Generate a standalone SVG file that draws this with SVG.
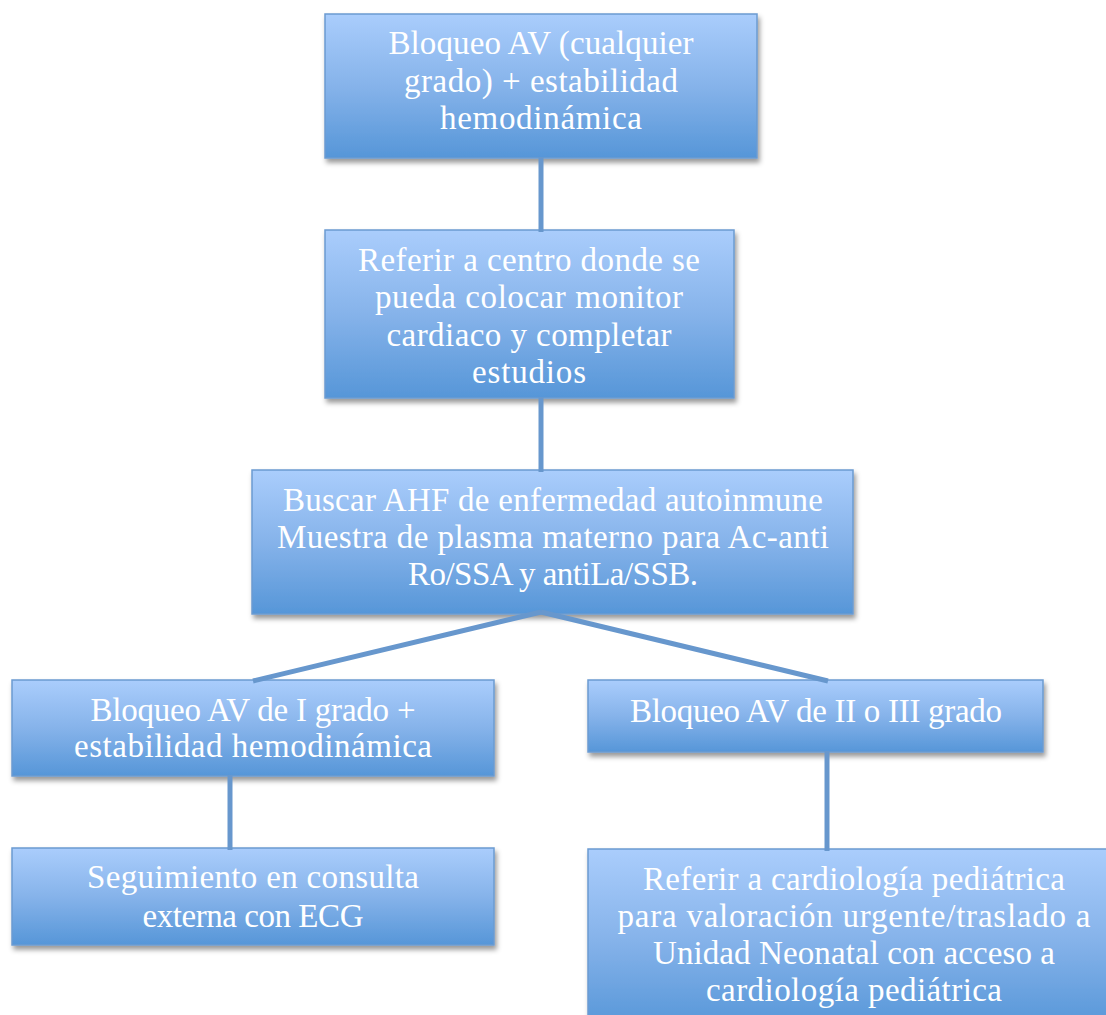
<svg xmlns="http://www.w3.org/2000/svg" width="1106" height="1015" viewBox="0 0 1106 1015">
  <defs>
    <linearGradient id="boxFill" x1="0" y1="0" x2="0" y2="1">
      <stop offset="0" stop-color="#aacdfc"/>
      <stop offset="0.5" stop-color="#86b3ea"/>
      <stop offset="1" stop-color="#5696d8"/>
    </linearGradient>
    <filter id="shadow" x="-5%" y="-5%" width="112%" height="125%">
      <feDropShadow dx="2" dy="4" stdDeviation="2.5" flood-color="#000" flood-opacity="0.4"/>
    </filter>
  </defs>
  <style>
    .box { fill: url(#boxFill); stroke: #6b9bd1; stroke-width: 1.5; filter: url(#shadow); }
    .label { font-family: "Liberation Serif", "Times New Roman", serif; font-size: 33px; fill: #ffffff; text-anchor: middle; }
    .link { stroke: #6797cd; stroke-width: 5; fill: none; stroke-linecap: butt; }
  </style>
  <rect width="1106" height="1015" fill="#ffffff"/>

  <g id="node-bloqueo-av">
    <rect class="box" x="325" y="14" width="432" height="144"/>
    <text class="label"><tspan x="541" y="54" textLength="305" lengthAdjust="spacing">Bloqueo AV (cualquier</tspan><tspan x="541" y="92" textLength="274" lengthAdjust="spacing">grado) + estabilidad</tspan><tspan x="541" y="129" textLength="202" lengthAdjust="spacing">hemodinámica</tspan></text>
  </g>

  <g id="node-referir-centro">
    <rect class="box" x="325" y="230" width="409" height="168"/>
    <text class="label"><tspan x="529" y="271" textLength="342" lengthAdjust="spacing">Referir a centro donde se</tspan><tspan x="529" y="308" textLength="308" lengthAdjust="spacing">pueda colocar monitor</tspan><tspan x="529" y="346" textLength="285" lengthAdjust="spacing">cardiaco y completar</tspan><tspan x="529" y="383" textLength="114" lengthAdjust="spacing">estudios</tspan></text>
  </g>

  <g id="node-buscar-ahf">
    <rect class="box" x="252" y="470" width="601" height="144"/>
    <text class="label"><tspan x="553" y="511" textLength="540" lengthAdjust="spacing">Buscar AHF de enfermedad autoinmune</tspan><tspan x="553" y="548" textLength="552" lengthAdjust="spacing">Muestra de plasma materno para Ac-anti</tspan><tspan x="553" y="585" textLength="290" lengthAdjust="spacing">Ro/SSA y antiLa/SSB.</tspan></text>
  </g>

  <g id="node-bloqueo-i">
    <rect class="box" x="12" y="680" width="482" height="96"/>
    <text class="label"><tspan x="253" y="721" textLength="325" lengthAdjust="spacing">Bloqueo AV de I grado +</tspan><tspan x="253" y="757" textLength="358" lengthAdjust="spacing">estabilidad hemodinámica</tspan></text>
  </g>

  <g id="node-bloqueo-ii-iii">
    <rect class="box" x="588" y="680" width="455" height="72"/>
    <text class="label"><tspan x="816" y="722" textLength="372" lengthAdjust="spacing">Bloqueo AV de II o III grado</tspan></text>
  </g>

  <g id="node-seguimiento">
    <rect class="box" x="12" y="848" width="482" height="97"/>
    <text class="label"><tspan x="253" y="888" textLength="332" lengthAdjust="spacing">Seguimiento en consulta</tspan><tspan x="253" y="927" textLength="221" lengthAdjust="spacing">externa con ECG</tspan></text>
  </g>

  <g id="node-referir-cardiologia">
    <rect class="box" x="588" y="849" width="530" height="180"/>
    <text class="label"><tspan x="854" y="890" textLength="422" lengthAdjust="spacing">Referir a cardiología pediátrica</tspan><tspan x="854" y="927" textLength="473" lengthAdjust="spacing">para valoración urgente/traslado a</tspan><tspan x="854" y="964" textLength="402" lengthAdjust="spacing">Unidad Neonatal con acceso a</tspan><tspan x="854" y="1001" textLength="296" lengthAdjust="spacing">cardiología pediátrica</tspan></text>
  </g>

  <g id="connectors">
    <line class="link" x1="541" y1="157" x2="541" y2="232"/>
    <line class="link" x1="541" y1="397" x2="541" y2="472"/>
    <line class="link" x1="541" y1="612" x2="253" y2="681"/>
    <line class="link" x1="541" y1="612" x2="828" y2="681"/>
    <line class="link" x1="230" y1="775" x2="230" y2="850"/>
    <line class="link" x1="827" y1="751" x2="827" y2="851"/>
  </g>
</svg>
